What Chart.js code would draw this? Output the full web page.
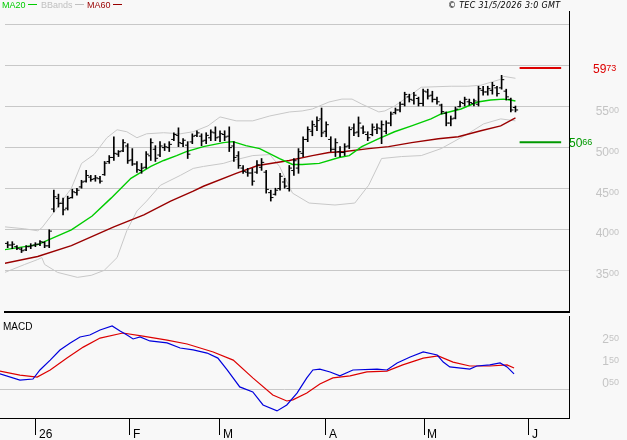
<!DOCTYPE html>
<html>
<head>
<meta charset="utf-8">
<title>Cours et MACD</title>
<script src="https://cdn.jsdelivr.net/npm/chart.js@4.4.1/dist/chart.umd.min.js"></script>
<style>
  html, body { margin: 0; padding: 0; background: #f8f8f8; }
  #wrap { position: relative; width: 627px; height: 440px; overflow: hidden; background: #f8f8f8;
          font-family: "Liberation Sans", Arial, sans-serif; }
  canvas { position: absolute; left: 0; display: block; }
  #price-chart { top: 0; }
  #macd-chart { top: 316px; }
  .lg { position: absolute; top: 0; font-size: 9px; line-height: 10px; white-space: nowrap; }
  .lg i { display: inline-block; width: 9px; height: 1px; margin-left: 2px; vertical-align: 3px; }
  #copy { position: absolute; top: 0; left: 448px; font-family: "DejaVu Sans", sans-serif; font-size: 8px;
          line-height: 11px; font-style: italic; letter-spacing: 0.3px; color: #000; white-space: nowrap; }
  #macd-title { position: absolute; left: 3px; top: 321px; font-size: 10px; line-height: 12px; color: #000; }
</style>
</head>
<body>
<div id="wrap">
  <canvas id="price-chart" width="627" height="317"></canvas>
  <canvas id="macd-chart" width="627" height="124"></canvas>
  <div class="lg" style="left:2px;color:#00cc00">MA20<i style="background:#00cc00"></i></div>
  <div class="lg" style="left:41px;color:#c0c0c0">BBands<i style="background:#c0c0c0"></i></div>
  <div class="lg" style="left:87px;color:#990000">MA60<i style="background:#990000"></i></div>
  <div id="copy">© TEC 31/5/2026 3:0 GMT</div>
  <div id="macd-title">MACD</div>
</div>
<script>
// daily bars, index 0 = first session shown (late December)
const highs = [38.51,38.51,38.03,37.78,38.03,38.27,38.39,38.63,38.51,39.96,
  44.80,44.32,43.83,44.07,44.92,45.04,46.01,47.22,46.61,46.61,
  46.49,48.31,49.03,51.33,49.64,50.97,50.48,49.88,48.31,48.07,
  49.52,51.09,50.24,50.73,50.48,50.73,51.82,52.42,51.09,50.73,
  51.69,52.06,51.69,51.82,52.18,52.54,52.06,52.06,52.54,50.73,
  49.52,47.82,47.46,47.46,48.43,48.67,47.22,44.80,45.04,46.86,
  46.25,47.82,48.67,49.88,51.33,52.54,53.27,53.75,54.84,53.15,
  51.33,51.09,50.12,50.48,52.54,52.90,53.75,52.66,51.94,52.90,
  52.90,53.27,53.27,54.36,54.84,55.57,56.77,56.53,56.77,56.17,
  57.14,57.14,56.89,56.17,55.32,54.36,53.87,54.96,55.69,56.17,
  55.93,55.93,57.50,57.50,57.50,57.98,57.50,58.83,57.14,56.05,
  55.08];
const lows = [37.78,37.66,37.54,37.18,37.42,37.66,37.90,38.03,37.78,37.78,
  42.14,42.74,41.78,42.38,43.83,44.19,45.04,45.77,45.89,45.89,
  45.65,46.61,48.07,48.43,48.91,49.52,48.07,47.82,46.98,46.86,
  47.46,48.43,48.31,48.91,49.64,49.52,50.85,50.12,50.12,48.67,
  50.48,51.33,50.24,50.48,50.85,50.85,50.73,50.85,49.52,48.31,
  47.46,46.86,46.49,45.40,46.86,47.22,44.44,43.47,44.19,44.80,
  45.04,44.68,46.61,46.86,48.91,50.73,51.45,52.06,51.33,51.33,
  49.52,48.91,48.91,49.03,49.88,51.45,51.33,51.69,50.85,51.45,
  51.69,50.48,51.69,52.66,54.11,54.36,55.08,55.57,55.32,55.08,
  55.08,55.93,55.57,55.32,54.11,52.66,52.66,53.51,54.96,55.08,
  55.20,55.08,55.08,56.41,56.41,56.53,56.29,57.14,55.81,54.36,
  54.36];
const opens = [38.3,38.1,37.9,37.6,37.5,37.9,38.1,38.2,38.4,38.0,
  42.5,43.8,43.2,42.6,43.9,44.5,45.2,45.9,46.4,46.2,
  46.2,46.7,48.3,48.8,49.2,49.6,50.2,48.5,48.0,47.2,
  47.6,49.0,49.8,49.1,50.0,50.0,51.0,51.5,50.5,50.3,
  50.7,51.5,51.4,50.9,51.2,51.8,51.3,51.6,51.4,50.2,
  49.0,47.5,47.0,46.9,47.0,47.6,47.0,44.5,44.3,45.0,
  45.8,45.0,47.2,47.5,49.3,51.0,52.0,52.6,53.5,52.0,
  51.0,49.8,49.5,49.4,50.2,52.4,51.9,52.4,51.6,51.6,
  52.2,52.3,52.0,53.0,54.3,54.6,55.3,56.2,55.8,56.0,
  55.4,56.8,56.4,55.9,55.2,54.2,53.0,53.6,55.0,55.4,
  55.6,55.4,55.3,57.0,56.8,57.0,57.3,57.3,56.9,55.9,
  54.9];
const closes = [38.1,38.2,37.7,37.4,37.9,38.0,38.2,38.5,38.0,39.8,
  44.0,43.2,42.4,43.8,44.6,44.8,45.8,46.6,46.1,46.3,
  45.9,48.1,48.8,49.3,49.5,50.6,48.4,48.0,47.3,47.5,
  49.2,50.6,48.7,50.2,50.1,50.4,51.6,50.6,50.9,49.2,
  51.4,51.8,50.8,51.5,51.9,51.2,51.7,51.3,50.0,48.8,
  47.8,47.1,46.9,45.9,47.9,48.2,44.9,43.9,44.8,46.5,
  45.3,47.5,48.4,49.5,51.0,52.2,52.8,53.3,51.8,52.8,
  49.8,50.6,49.4,50.1,52.2,51.8,53.0,51.9,51.2,52.5,
  52.4,52.8,53.0,54.1,54.6,55.3,56.5,55.9,56.4,55.4,
  56.9,56.3,55.9,55.6,54.4,53.0,53.5,54.7,55.5,55.9,
  55.5,55.7,57.2,56.8,57.2,57.6,56.6,58.3,56.2,54.6,
  54.6];

// indicator lines (bar index, value)
const ma20Idx = [-0.6, 6.5, 13.8, 18.3, 22.4, 26.7, 31.0, 33.8, 36.6, 38.7, 42.4, 46.7, 48.8, 51.6, 54.6, 58.9, 61.7, 63.8, 67.5, 71.8, 74.0, 76.7, 80.4, 83.8, 87.5, 91.7, 93.9, 98.2, 101.8, 104.6, 107.4, 108.9, 110];
const ma20Val = [37.54, 38.15, 39.96, 41.65, 43.83, 46.25, 47.70, 48.43, 49.03, 49.52, 50.12, 50.61, 50.73, 50.24, 49.88, 48.67, 47.94, 47.94, 48.07, 48.79, 49.03, 50.12, 51.09, 51.94, 52.66, 53.51, 54.11, 54.72, 55.57, 55.81, 55.93, 55.81, 55.69];
const ma60Idx = [-0.6, 6.5, 13.8, 23.0, 29.5, 35.3, 40.2, 42.4, 49.5, 54.2, 61.0, 66.0, 69.6, 73.1, 78.2, 82.5, 87.5, 93.3, 97.6, 102.5, 106.8, 110];
const ma60Val = [35.88, 36.70, 38.03, 40.32, 41.78, 43.47, 44.68, 45.28, 46.86, 47.82, 48.43, 49.03, 49.40, 49.52, 49.88, 50.12, 50.61, 51.09, 51.33, 52.06, 52.66, 53.63];
const bbUpIdx = [-0.6, 3.7, 6.5, 7.4, 10.2, 13.8, 16.0, 18.7, 21.5, 23.7, 25.8, 28.0, 30.1, 33.8, 37.4, 40.2, 43.4, 46.0, 49.5, 53.1, 56.8, 61.1, 63.8, 66.0, 69.6, 72.4, 74.6, 76.7, 80.4, 81.7, 83.8, 86.0, 89.6, 96.1, 99.7, 102.5, 106.8, 107.4, 110];
const bbUpVal = [40.32, 40.08, 39.84, 40.20, 42.26, 45.04, 48.07, 49.15, 51.21, 52.18, 51.94, 51.21, 51.69, 51.82, 51.69, 51.94, 52.66, 53.75, 53.27, 53.27, 53.87, 54.36, 54.48, 54.72, 55.57, 55.93, 55.93, 55.32, 54.36, 54.48, 55.08, 55.93, 57.38, 57.50, 57.50, 57.62, 58.35, 58.71, 58.47];
const bbLoIdx = [-0.6, 3.7, 6.5, 7.4, 8.0, 10.8, 15.1, 18.1, 20.9, 23.7, 25.8, 28.0, 30.1, 33.1, 37.4, 40.2, 42.4, 46.7, 48.8, 53.1, 56.8, 58.9, 61.7, 65.3, 70.9, 75.2, 78.2, 81.0, 85.3, 89.6, 93.9, 99.7, 103.1, 106.8, 110];
const bbLoVal = [34.76, 35.73, 36.33, 36.57, 35.73, 34.76, 34.15, 34.40, 35.00, 36.57, 39.84, 42.26, 43.47, 45.40, 46.61, 47.46, 47.70, 48.07, 48.43, 49.03, 49.15, 47.70, 44.44, 43.23, 42.99, 43.23, 45.40, 48.67, 48.91, 49.03, 49.88, 51.69, 52.90, 53.51, 53.27];

const macdIdx = [-0.6, 3.7, 6.5, 8.0, 10.2, 12.3, 14.5, 16.6, 18.7, 20.9, 23.5, 25.2, 26.7, 28.0, 29.5, 31.6, 35.3, 38.1, 40.9, 43.9, 46.2, 48.2, 50.9, 53.7, 55.9, 58.9, 61.0, 63.2, 65.3, 66.6, 68.1, 70.3, 72.4, 75.2, 80.4, 82.5, 84.7, 87.5, 90.3, 93.3, 94.6, 96.0, 100.3, 101.8, 104.6, 106.8, 108.3, 109.8];
const macdVal = [0.73, 0.45, 0.50, 0.91, 1.36, 1.82, 2.14, 2.41, 2.50, 2.73, 2.91, 2.68, 2.50, 2.32, 2.41, 2.23, 2.14, 1.91, 1.82, 1.68, 1.45, 0.91, 0.14, -0.09, -0.68, -0.95, -0.68, -0.14, 0.55, 0.91, 0.95, 0.82, 0.64, 0.91, 0.95, 0.91, 1.23, 1.50, 1.73, 1.59, 1.27, 1.05, 0.95, 1.09, 1.14, 1.23, 1.05, 0.73];
const sigIdx = [-0.6, 3.7, 7.4, 10.2, 13.8, 17.3, 20.9, 25.8, 30.1, 35.3, 39.6, 45.2, 49.5, 53.7, 58.0, 61.0, 62.3, 65.3, 68.1, 70.9, 74.6, 78.2, 82.5, 85.9, 90.3, 93.5, 96.7, 100.3, 104.6, 108.3, 109.8];
const sigVal = [0.86, 0.68, 0.59, 0.91, 1.45, 1.95, 2.36, 2.59, 2.45, 2.27, 2.09, 1.73, 1.36, 0.55, -0.23, -0.50, -0.45, -0.14, 0.27, 0.55, 0.64, 0.82, 0.86, 1.14, 1.45, 1.55, 1.27, 1.09, 1.09, 1.14, 1.00];

// axes
const monthTicks = [7.15, 27.33, 46.66, 69.42, 90.47, 113.01];
const monthLabels = ['26', 'F', 'M', 'A', 'M', 'J'];
const priceGrid = [35, 40, 45, 50, 55, 60, 65];
const priceLabels = [35, 40, 45, 50, 55];
const macdGrid = [0];
const macdLabels = [0.5, 1.5, 2.5];

// resistance / support marks
const targetHigh = 59.73;
const targetLow = 50.66;
const targetSpan = [110.9, 119.9];

const X_MIN = -0.58, X_MAX = 121.6;
const P_MIN = 29.92, P_MAX = 66.69;
const M_MIN = -1.273, M_MAX = 3.364;

const GRID = '#c8c8c8';
const LABEL_GRAY = '#c4c4c4';
const MA20_COLOR = '#00cc00';
const MA60_COLOR = '#990000';
const MARK_RED = '#dd0000';
const MARK_GREEN = '#009900';
const FONT = '"Liberation Sans", Arial, sans-serif';

Chart.defaults.font.family = FONT;

const pts = (xs, ys) => xs.map((x, i) => ({ x, y: ys[i] }));
const line = (data, color, width) => ({
  type: 'line', data, borderColor: color, borderWidth: width,
  pointRadius: 0, fill: false, tension: 0,
});
const ticks = (data) => ({
  type: 'line', data, showLine: false, pointStyle: 'line',
  pointRadius: 1.3, pointBorderWidth: 1, pointBorderColor: '#000',
});

// big digits + small raised decimals, like "55⁰⁰"
function drawSplit(ctx, v, yPix, x, align, color, bigDy, smallDy) {
  const [big, small] = v.toFixed(2).split('.');
  ctx.fillStyle = color;
  ctx.textBaseline = 'alphabetic';
  ctx.textAlign = 'left';
  ctx.font = '12px ' + FONT;
  const wBig = ctx.measureText(big).width;
  ctx.font = '9px ' + FONT;
  const wSmall = ctx.measureText(small).width;
  const left = align === 'right' ? x - wBig - wSmall : x;
  ctx.font = '12px ' + FONT;
  ctx.fillText(big, left, yPix + bigDy);
  ctx.font = '9px ' + FONT;
  ctx.fillText(small, left + wBig, yPix + smallDy);
}

const priceAxisLabels = {
  id: 'priceAxisLabels',
  afterDraw(chart) {
    const { ctx, chartArea, scales: { y } } = chart;
    ctx.save();
    priceLabels.forEach(v => drawSplit(ctx, v, y.getPixelForValue(v), chart.width - 8, 'right', LABEL_GRAY, 8, 6));
    drawSplit(ctx, targetHigh, y.getPixelForValue(targetHigh), chartArea.right + 24, 'left', MARK_RED, 5, 3);
    drawSplit(ctx, targetLow, y.getPixelForValue(targetLow), chartArea.right, 'left', MARK_GREEN, 5, 3);
    ctx.restore();
  }
};

const macdAxisLabels = {
  id: 'macdAxisLabels',
  afterDraw(chart) {
    const { ctx, scales: { y } } = chart;
    ctx.save();
    macdLabels.forEach(v => drawSplit(ctx, v, y.getPixelForValue(v), chart.width - 8, 'right', LABEL_GRAY, 8, 6));
    ctx.restore();
  }
};

const ohlcBars = {
  type: 'bar',
  data: highs.map((h, i) => ({ x: i, y: [lows[i], h] })),
  backgroundColor: '#000', borderWidth: 0, barThickness: 1,
};

new Chart(document.getElementById('price-chart'), {
  type: 'line',
  data: {
    datasets: [
      ohlcBars,
      ticks(opens.map((v, i) => ({ x: i - 0.3, y: v }))),
      ticks(closes.map((v, i) => ({ x: i + 0.3, y: v }))),
      line(pts(ma20Idx, ma20Val), MA20_COLOR, 1.4),
      line(pts(ma60Idx, ma60Val), MA60_COLOR, 1.4),
      line(pts(bbUpIdx, bbUpVal), GRID, 1),
      line(pts(bbLoIdx, bbLoVal), GRID, 1),
      line(targetSpan.map(x => ({ x, y: targetHigh })), MARK_RED, 2),
      line(targetSpan.map(x => ({ x, y: targetLow })), MARK_GREEN, 2),
    ],
  },
  options: {
    responsive: false,
    animation: false,
    events: [],
    layout: { padding: { top: 11, left: 0, right: 0, bottom: 0 } },
    plugins: { legend: { display: false }, tooltip: { enabled: false } },
    scales: {
      x: {
        type: 'linear', min: X_MIN, max: X_MAX, offset: false,
        grid: { display: false },
        ticks: { display: false },
        border: { display: true, color: '#000', width: 2 },
        afterFit: s => { s.height = 2; },
      },
      y: {
        position: 'right', min: P_MIN, max: P_MAX,
        grid: { color: GRID, drawTicks: false },
        border: { display: true, color: '#000', width: 1 },
        ticks: { display: false },
        afterBuildTicks: s => { s.ticks = priceGrid.map(v => ({ value: v })); },
        afterFit: s => { s.width = 58; },
      },
    },
  },
  plugins: [priceAxisLabels],
});

new Chart(document.getElementById('macd-chart'), {
  type: 'line',
  data: {
    datasets: [
      line(pts(macdIdx, macdVal), '#0000dd', 1.2),
      line(pts(sigIdx, sigVal), '#dd0000', 1.2),
    ],
  },
  options: {
    responsive: false,
    animation: false,
    events: [],
    layout: { padding: 0 },
    plugins: { legend: { display: false }, tooltip: { enabled: false } },
    scales: {
      x: {
        type: 'linear', min: X_MIN, max: X_MAX, offset: false,
        afterBuildTicks: s => { s.ticks = monthTicks.map(v => ({ value: v })); },
        grid: { display: true, drawOnChartArea: false, drawTicks: true, tickLength: 17, color: '#000', tickColor: '#000' },
        border: { display: true, color: '#000', width: 1 },
        ticks: {
          autoSkip: false, maxRotation: 0, align: 'start', labelOffset: 3, padding: -8,
          color: '#000', font: { size: 12 },
          callback: (v, i) => monthLabels[i],
        },
        afterFit: s => { s.height = 22; },
      },
      y: {
        position: 'right', min: M_MIN, max: M_MAX,
        grid: { color: GRID, drawTicks: false },
        border: { display: true, color: '#000', width: 1 },
        ticks: { display: false },
        afterBuildTicks: s => { s.ticks = macdGrid.map(v => ({ value: v })); },
        afterFit: s => { s.width = 58; },
      },
    },
  },
  plugins: [macdAxisLabels],
});
</script>
</body>
</html>
